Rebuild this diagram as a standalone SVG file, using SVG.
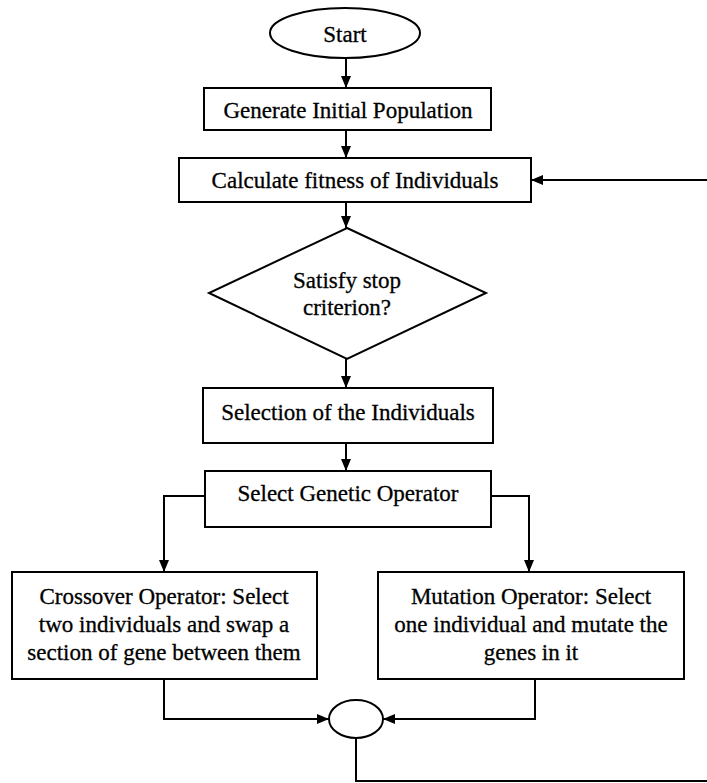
<svg xmlns="http://www.w3.org/2000/svg" width="707" height="783" viewBox="0 0 707 783">
  <style>
    .shape { fill: #ffffff; stroke: #000000; stroke-width: 2; }
    .lbl { font-family: "Liberation Serif", "Times New Roman", serif; font-size: 23px; fill: #000000; stroke: #000000; stroke-width: 0.3; text-anchor: middle; }
    .conn { fill: none; stroke: #000000; stroke-width: 2; }
  </style>
  <defs>
    <marker id="arrow" markerUnits="userSpaceOnUse" markerWidth="12" markerHeight="10" refX="12" refY="5" orient="auto">
      <path d="M0,0 L12,5 L0,10 z" fill="#000000"/>
    </marker>
  </defs>

  <rect width="707" height="783" fill="#ffffff"/>

  <g id="connectors">
    <path class="conn" d="M346,58 V88" marker-end="url(#arrow)"/>
    <path class="conn" d="M346,130 V158" marker-end="url(#arrow)"/>
    <path class="conn" d="M346,202 V228" marker-end="url(#arrow)"/>
    <path class="conn" d="M346,359 V388" marker-end="url(#arrow)"/>
    <path class="conn" d="M346,443 V471" marker-end="url(#arrow)"/>
    <path class="conn" d="M205,496 H164 V572" marker-end="url(#arrow)"/>
    <path class="conn" d="M491,496 H529 V572" marker-end="url(#arrow)"/>
    <path class="conn" d="M164,679 V719 H329" marker-end="url(#arrow)"/>
    <path class="conn" d="M535,679 V719 H383" marker-end="url(#arrow)"/>
    <path class="conn" d="M356,738 V781 H707"/>
    <path class="conn" d="M707,180 H531" marker-end="url(#arrow)"/>
  </g>

  <g id="start">
    <ellipse class="shape" cx="345" cy="33" rx="75" ry="25"/>
    <text class="lbl" x="345" y="42">Start</text>
  </g>

  <g id="generate">
    <rect class="shape" x="204" y="88" width="287" height="42"/>
    <text class="lbl" x="348" y="118">Generate Initial Population</text>
  </g>

  <g id="fitness">
    <rect class="shape" x="179" y="158" width="352" height="44"/>
    <text class="lbl" x="355" y="188">Calculate fitness of Individuals</text>
  </g>

  <g id="stop-check">
    <polygon class="shape" points="347,228 486,293 347,359 209,293"/>
    <text class="lbl" x="347" y="288">Satisfy stop</text>
    <text class="lbl" x="347" y="315">criterion?</text>
  </g>

  <g id="selection">
    <rect class="shape" x="203" y="388" width="290" height="55"/>
    <text class="lbl" x="348" y="420">Selection of the Individuals</text>
  </g>

  <g id="operator">
    <rect class="shape" x="205" y="471" width="286" height="56"/>
    <text class="lbl" x="348" y="501">Select Genetic Operator</text>
  </g>

  <g id="crossover">
    <rect class="shape" x="12" y="572" width="305" height="107"/>
    <text class="lbl" x="164" y="604">Crossover Operator: Select</text>
    <text class="lbl" x="164" y="632">two individuals and swap a</text>
    <text class="lbl" x="164" y="660">section of gene between them</text>
  </g>

  <g id="mutation">
    <rect class="shape" x="378" y="572" width="306" height="107"/>
    <text class="lbl" x="531" y="604">Mutation Operator: Select</text>
    <text class="lbl" x="531" y="632">one individual and mutate the</text>
    <text class="lbl" x="531" y="660">genes in it</text>
  </g>

  <g id="merge">
    <ellipse class="shape" cx="356" cy="719" rx="27" ry="19"/>
  </g>
</svg>
